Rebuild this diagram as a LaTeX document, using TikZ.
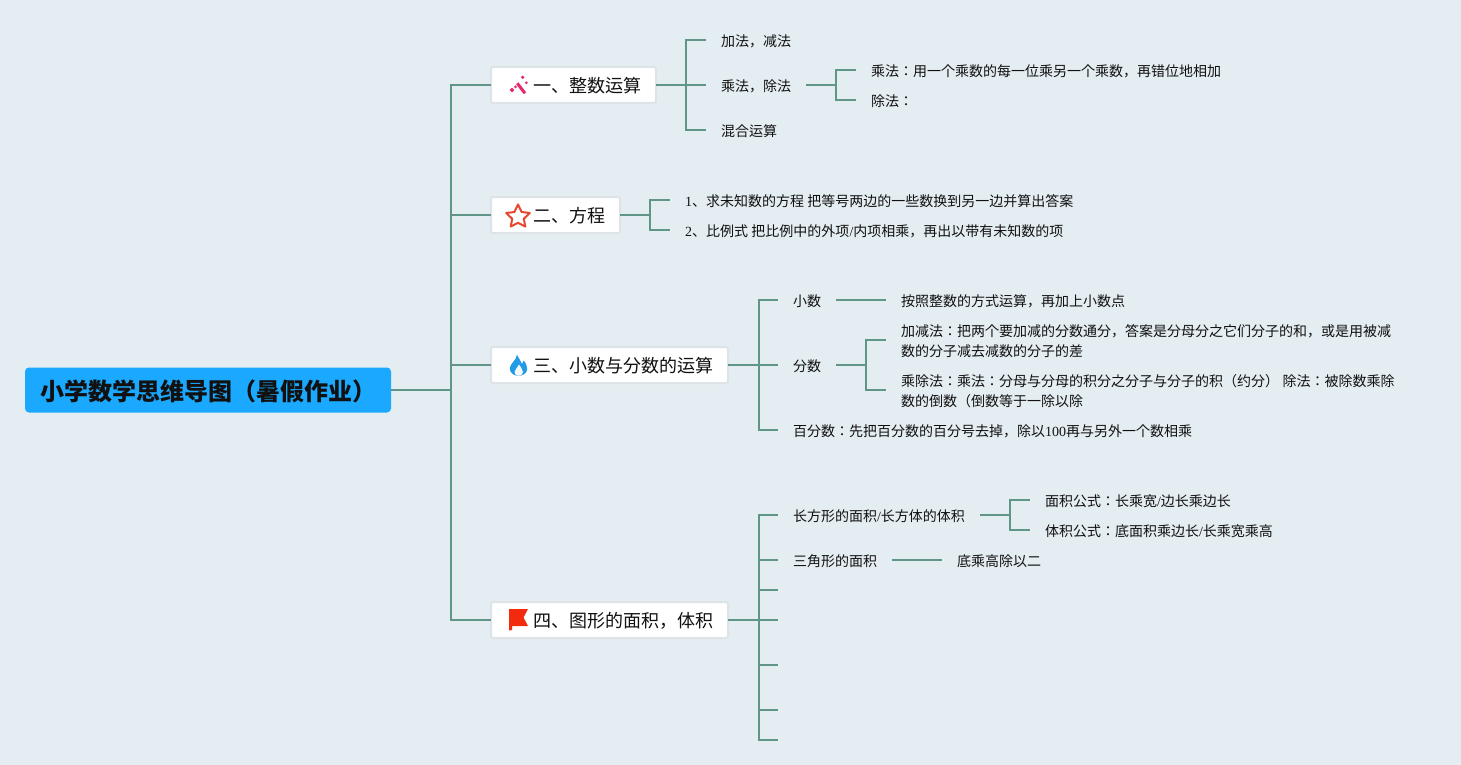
\documentclass[tikz,border=0pt]{standalone}
\usepackage{fontspec}
\setmainfont{Noto Sans CJK JP}
\newfontfamily\serifl{Liberation Serif}
\newcommand{\lat}[1]{{\serifl #1}}
\definecolor{bgc}{HTML}{E4EDF1}
\definecolor{linec}{HTML}{5F9688}
\definecolor{rootc}{HTML}{1BA9FF}
\definecolor{boxb}{HTML}{DDE3E6}
\definecolor{txtc}{HTML}{111111}
\definecolor{wandc}{HTML}{E8276F}
\definecolor{starc}{HTML}{E8472F}
\definecolor{flamec}{HTML}{1F9BE8}
\definecolor{flagc}{HTML}{F22B0F}
\tikzset{
 conn/.style={draw=linec,line width=2pt},
 rootbox/.style={anchor=west,fill=rootc,rounded corners=4pt,inner xsep=15pt,inner ysep=0pt,minimum height=45pt,font=\bfseries\fontsize{24}{28}\selectfont,text=txtc,outer sep=0pt,text height=22pt,text depth=1.8pt},
 topic/.style={anchor=west,fill=white,draw=boxb,line width=2pt,rounded corners=2pt,inner xsep=15pt,inner ysep=0pt,minimum height=36pt,font=\fontsize{18}{22}\selectfont,text=txtc,outer sep=0pt,text height=17pt,text depth=1.4pt},
 leaf/.style={anchor=west,inner xsep=15pt,inner ysep=0pt,outer sep=0pt,font=\fontsize{14}{20}\selectfont,text=txtc,text height=13.6pt,text depth=1pt},
 leaftwo/.style={leaf,align=left,text height=34.6pt,text depth=2pt},
}
\begin{document}
\begin{tikzpicture}[x=1pt,y=-1pt]
\useasboundingbox (0,0) rectangle (1461,765);
\fill[bgc] (0,0) rectangle (1461,765);
\node[rootbox] (root) at (25,390) {小学数学思维导图（暑假作业）};
\node[topic] (t1) at (491,85) {\hspace{27pt}一、整数运算};
\node[topic] (t2) at (491,215) {\hspace{27pt}二、方程};
\node[topic] (t3) at (491,365) {\hspace{27pt}三、小数与分数的运算};
\node[topic] (t4) at (491,620) {\hspace{27pt}四、图形的面积，体积};
\coordinate (trunk) at (451,390);
\node[leaf] (a1) at (706,40) {加法，减法};
\node[leaf] (a2) at (706,85) {乘法，除法};
\node[leaf] (a3) at (706,130) {混合运算};
\node[leaf] (a21) at (856,70) {乘法：用一个乘数的每一位乘另一个乘数，再错位地相加};
\node[leaf] (a22) at (856,100) {除法：};
\node[leaf] (b1) at (670,200) {\lat{1}、求未知数的方程\lat{ }把等号两边的一些数换到另一边并算出答案};
\node[leaf] (b2) at (670,230) {\lat{2}、比例式\lat{ }把比例中的外项\lat{/}内项相乘，再出以带有未知数的项};
\node[leaf] (c1) at (778,300) {小数};
\node[leaf] (c2) at (778,365) {分数};
\node[leaf] (c3) at (778,430) {百分数：先把百分数的百分号去掉，除以\lat{100}再与另外一个数相乘};
\node[leaf] (c11) at (886,300) {按照整数的方式运算，再加上小数点};
\node[leaftwo] (c21) at (886,340) {加减法：把两个要加减的分数通分，答案是分母分之它们分子的和，或是用被减\\数的分子减去减数的分子的差};
\node[leaftwo] (c22) at (886,390) {乘除法：乘法：分母与分母的积分之分子与分子的积（约分）\lat{ }除法：被除数乘除\\数的倒数（倒数等于一除以除};
\node[leaf] (d1) at (778,515) {长方形的面积\lat{/}长方体的体积};
\node[leaf] (d2) at (778,560) {三角形的面积};
\coordinate (d3) at (778,590);
\coordinate (d4) at (778,620);
\coordinate (d5) at (778,665);
\coordinate (d6) at (778,710);
\coordinate (d7) at (778,740);
\node[leaf] (d11) at (1030,500) {面积公式：长乘宽\lat{/}边长乘边长};
\node[leaf] (d12) at (1030,530) {体积公式：底面积乘边长\lat{/}长乘宽乘高};
\node[leaf] (d21) at (942,560) {底乘高除以二};
% connectors
\draw[conn] (root.east) -- (trunk);
\draw[conn,line cap=rect] (trunk |- t1.west) -- (trunk |- t4.west);
\foreach \t in {t1,t2,t3,t4} \draw[conn] (\t.west) -- (\t.west -| trunk);
\foreach \p/\x/\k in {t1/686/a1,t1/686/a2,t1/686/a3,a2/836/a21,a2/836/a22,t2/650/b1,t2/650/b2,t3/759/c1,t3/759/c2,t3/759/c3,c2/866/c21,c2/866/c22,t4/759/d1,t4/759/d2,t4/759/d3,t4/759/d4,t4/759/d5,t4/759/d6,t4/759/d7,d1/1010/d11,d1/1010/d12}
  \draw[conn] (\p.east) -- (\x,0 |- \p.east) -- (\x,0 |- \k.west) -- (\k.west);
\draw[conn] (c1.east) -- (c11.west);
\draw[conn] (d2.east) -- (d21.west);
% icons
\draw[wandc,line width=3pt] (517.3,83.3) -- (525,93.3);
\fill[wandc] (522.7,75.5) -- (524.5,77.3) -- (522.7,79.1) -- (520.9,77.3) -- cycle;
\fill[wandc] (526.4,81.2) -- (527.9,82.7) -- (526.4,84.2) -- (524.9,82.7) -- cycle;
\fill[wandc] (512,87.6) -- (514.4,90) -- (512,92.4) -- (509.6,90) -- cycle;
\fill[wandc] (515.5,85.4) -- (517,86.9) -- (515.5,88.4) -- (514,86.9) -- cycle;
\draw[starc,line width=2pt,line join=round] (518,204.5) -- (521.6,212) -- (529.8,213) -- (523.8,218.8) -- (525.3,226.6) -- (518,222.8) -- (510.7,226.6) -- (512.2,218.8) -- (506.2,213) -- (514.4,212) -- cycle;
\fill[flamec] (517,354.5) .. controls (518.5,358.5) and (521,360.5) .. (522,364) .. controls (523,363) and (523.5,362) .. (523.7,360.5) .. controls (526,363.5) and (527.2,366) .. (527.2,369) .. controls (527.2,373) and (523,375.8) .. (518.5,375.8) .. controls (514,375.8) and (509.8,373) .. (509.8,368.5) .. controls (509.8,363.5) and (516.5,360.5) .. (517,354.5) -- cycle;
\fill[bgc!40!white] (519,364.5) .. controls (520,367) and (523,369) .. (523,372) .. controls (523,374) and (521,375.8) .. (518.5,375.8) .. controls (516,375.8) and (514.5,374) .. (514.5,372) .. controls (514.5,369) and (518,368) .. (519,364.5) -- cycle;
\fill[flagc] (509,609) -- (528,609) -- (523.5,617.5) -- (528,626) -- (512,626) -- (512,630) -- (509,630.5) -- cycle;
\end{tikzpicture}
\end{document}
